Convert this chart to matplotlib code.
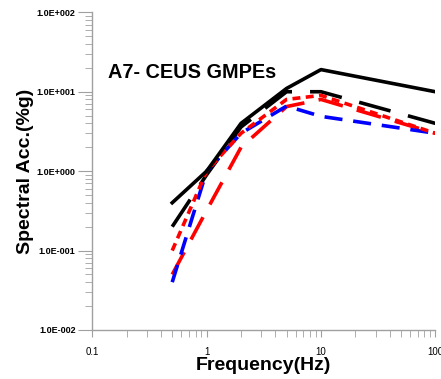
import matplotlib.pyplot as plt
from matplotlib.ticker import LogLocator, FixedLocator, FixedFormatter, NullFormatter

# frequencies (Hz)
freq = [0.5, 1, 2, 5, 10, 100]

# spectral acceleration (%g) for each GMPE curve
black_solid = [0.4, 1.0, 4.0, 11.0, 19.0, 10.0]
black_dash = [0.2, 0.9, 3.6, 10.0, 10.0, 4.0]
red_short = [0.1, 1.0, 3.0, 8.0, 9.0, 3.0]
blue_dash = [0.04, 1.0, 3.0, 6.6, 4.9, 3.0]
red_long = [0.05, 0.32, 2.0, 6.5, 8.0, 3.0]

y_ticks = [0.01, 0.1, 1, 10, 100]
y_labels = ['1.0E-002', '1.0E-001', '1.0E+000', '1.0E+001', '1.0E+002']
x_ticks = [0.1, 1, 10, 100]
x_labels = ['0.1', '1', '10', '100']

plt.rcParams['font.family'] = ['Liberation Sans', 'DejaVu Sans']

fig = plt.figure(figsize=(4.41, 3.79), dpi=100)
ax = fig.add_axes([0.2093, 0.1293, 0.7778, 0.8382])

lw = 2.6
ax.plot(freq, black_dash, color='black', lw=lw, dashes=(9, 5))
ax.plot(freq, red_long, color='red', lw=lw, dashes=(7, 4))
ax.plot(freq, blue_dash, color='blue', lw=lw, dashes=(5, 3))
ax.plot(freq, red_short, color='red', lw=lw, dashes=(2.2, 1.5))
ax.plot(freq, black_solid, color='black', lw=lw)

ax.set_xscale('log')
ax.set_yscale('log')
ax.set_xlim(0.1, 100)
ax.set_ylim(0.01, 100)

ax.yaxis.set_major_locator(FixedLocator(y_ticks))
ax.yaxis.set_major_formatter(FixedFormatter(y_labels))
ax.yaxis.set_minor_locator(LogLocator(base=10, subs=range(2, 10)))
ax.yaxis.set_minor_formatter(NullFormatter())
ax.xaxis.set_major_locator(FixedLocator(x_ticks))
ax.xaxis.set_major_formatter(FixedFormatter(x_labels))
ax.xaxis.set_minor_locator(LogLocator(base=10, subs=range(2, 10)))
ax.xaxis.set_minor_formatter(NullFormatter())

for s in ['top', 'right']:
    ax.spines[s].set_visible(False)
for s in ['left', 'bottom']:
    ax.spines[s].set_color('#a0a0a0')
    ax.spines[s].set_linewidth(1.0)

ax.tick_params(axis='y', which='major', length=10, color='#a0a0a0', labelsize=6.5, pad=2)
ax.tick_params(axis='y', which='minor', length=5, color='#a0a0a0')
ax.tick_params(axis='x', which='major', length=5, color='#a0a0a0', labelsize=7, pad=7)
ax.tick_params(axis='x', which='minor', length=5, color='#a0a0a0')
for lab in ax.get_yticklabels():
    lab.set_fontweight('bold')

ax.set_xlabel('Frequency(Hz)', fontsize=14, fontweight='bold', labelpad=0)
ax.set_ylabel('Spectral Acc.(%g)', fontsize=14, fontweight='bold', labelpad=2)

ax.text(0.046, 0.812, 'A7- CEUS GMPEs', transform=ax.transAxes, fontsize=14.3,
        fontweight='bold', ha='left', va='center')

fig.savefig('out.png', dpi=100)
